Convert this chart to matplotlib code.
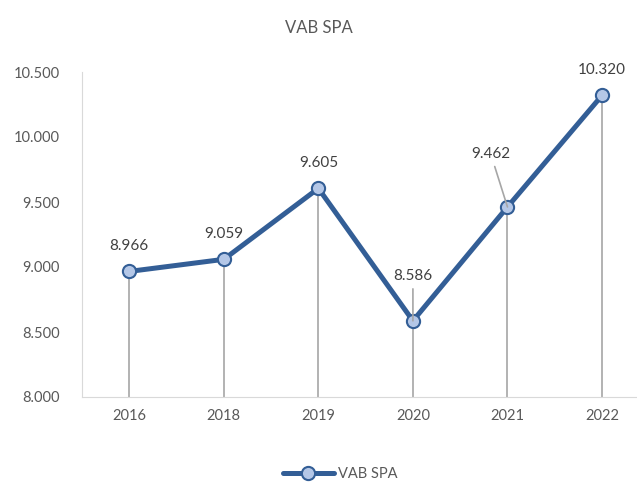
import matplotlib
matplotlib.use("Agg")
import matplotlib.pyplot as plt

# data
years = ["2016", "2018", "2019", "2020", "2021", "2022"]
vab_spa = [8966, 9059, 9605, 8586, 9462, 10320]
y_ticks = [8000, 8500, 9000, 9500, 10000, 10500]

line_col = "#335E96"
marker_face = "#B4C7E7"
grey = "#A6A6A6"
txt = "#595959"

plt.rcParams["font.family"] = ["Lato", "DejaVu Sans"]

def fmt(v):
    return "{:,.0f}".format(v).replace(",", ".")

fig = plt.figure(figsize=(6.37, 4.82), dpi=100)
ax = fig.add_axes([82 / 637, 85 / 482, 1 - 82 / 637, 325 / 482])

x = list(range(len(years)))

# drop lines
ax.vlines(x, y_ticks[0], vab_spa, color=grey, lw=1.2, zorder=1)

ax.plot(x, vab_spa, color=line_col, lw=3.6, marker="o", ms=9.5,
        mfc=marker_face, mec=line_col, mew=1.5, zorder=3,
        solid_capstyle="round", label="VAB SPA")

# data labels (offsets in points), leader line where the label was moved
offsets = [(0, 13), (0, 13), (0, 13), (0, 27), (-12, 33), (0, 13)]
leader = [False, False, False, True, True, False]
for xi, v, off, ld in zip(x, vab_spa, offsets, leader):
    arrow = None
    if ld:
        arrow = dict(arrowstyle="-", color=grey, lw=1.2, shrinkA=2, shrinkB=0)
    ax.annotate(fmt(v), (xi, v), xytext=off, textcoords="offset points",
                ha="center", va="bottom", fontsize=11, color="#404040",
                arrowprops=arrow)

ax.set_xlim(-0.5, 5.37)
ax.set_ylim(y_ticks[0], y_ticks[-1])
ax.set_yticks(y_ticks)
ax.set_yticklabels([fmt(t) for t in y_ticks])
ax.set_xticks(x)
ax.set_xticklabels(years)
ax.tick_params(length=0, labelsize=10.5, labelcolor=txt, pad=9)
ax.tick_params(axis="y", pad=16)

for s in ["top", "right"]:
    ax.spines[s].set_visible(False)
ax.spines["left"].set_color("#D9D9D9")
ax.spines["bottom"].set_color("#D9D9D9")

fig.text(0.5, 1 - 28 / 482, "VAB SPA", ha="center", va="center",
         fontsize=12, color=txt)

fig.legend(loc="center", bbox_to_anchor=(340 / 637, 1 - 474 / 482),
           frameon=False, fontsize=10.5, labelcolor=txt, handlelength=3.5,
           handletextpad=0.3)

fig.savefig("out.png", dpi=100)
